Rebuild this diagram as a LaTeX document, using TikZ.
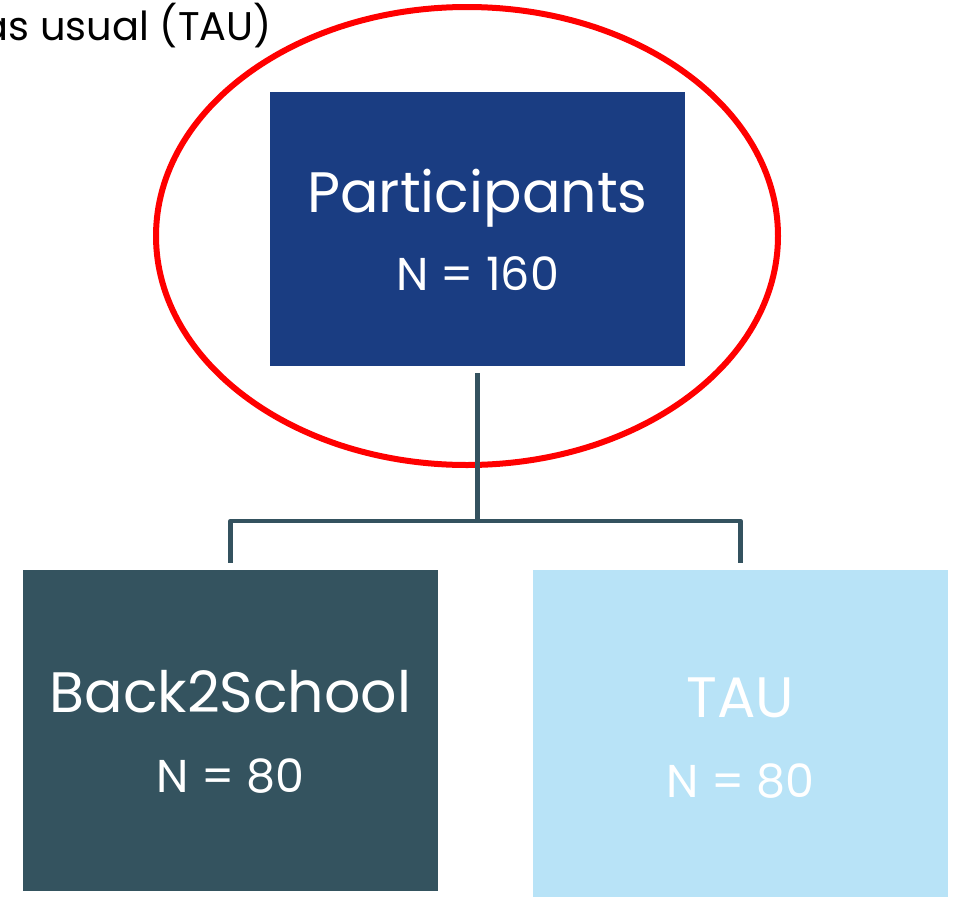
\documentclass[tikz,border=0pt]{standalone}
\usepackage{fontspec}
\setmainfont{Poppins}
\usepackage{xcolor}
\usetikzlibrary{positioning}
\definecolor{partblue}{HTML}{1A3D82}
\definecolor{armdark}{HTML}{34535F}
\definecolor{armlight}{HTML}{B8E3F7}
\definecolor{linkgray}{HTML}{34525F}
\newcommand{\bigtxt}{\fontsize{57}{63}\selectfont}
\newcommand{\smalltxt}{\fontsize{46}{50}\selectfont}
\tikzstyle{group} = [rectangle, minimum width=415pt, inner sep=0pt]
\tikzstyle{title} = [anchor=base, text=white, inner sep=0pt, font=\bigtxt]
\tikzstyle{count} = [anchor=base, text=white, inner sep=0pt, font=\smalltxt]
\tikzstyle{link} = [line width=4.5pt, draw=linkgray, line join=round]

\begin{document}
\begin{tikzpicture}[x=1pt,y=-1pt]
    \useasboundingbox (0,0) rectangle (956,897);

    % top caption
    \node[anchor=base east, inner sep=0pt, font=\fontsize{40}{44}\selectfont] (caption) at (272,40) {as usual (TAU)};

    % red highlight round the top box
    \draw[red, line width=6pt] (467,236) ellipse [x radius=311, y radius=229];

    \node[group, fill=partblue, minimum height=274pt] (part) at (477.5,229) {};
    \node[title] (parttitle) at (477.5,212) {Participants};
    \node[count] (partn) at (477.5,290) {N = 160};

    \node[group, fill=armdark, minimum height=321pt] (b2s) at (230.5,730.5) {};
    \node[title] (b2stitle) at (230.5,712) {Back2School};
    \node[count] (b2sn) at (230.5,792) {N = 80};

    \node[group, fill=armlight, minimum height=327pt] (tau) at (740.5,733.5) {};
    \node[title] (tautitle) at (740.5,717) {TAU};
    \node[count] (taun) at (740.5,797) {N = 80};

    \coordinate (fork) at (477.5,521);
    \draw[link] ([yshift=-7pt]part.south) -- (fork);
    \draw[link] ([yshift=7pt]b2s.north) |- (fork) -| ([yshift=7pt]tau.north);
\end{tikzpicture}
\end{document}
